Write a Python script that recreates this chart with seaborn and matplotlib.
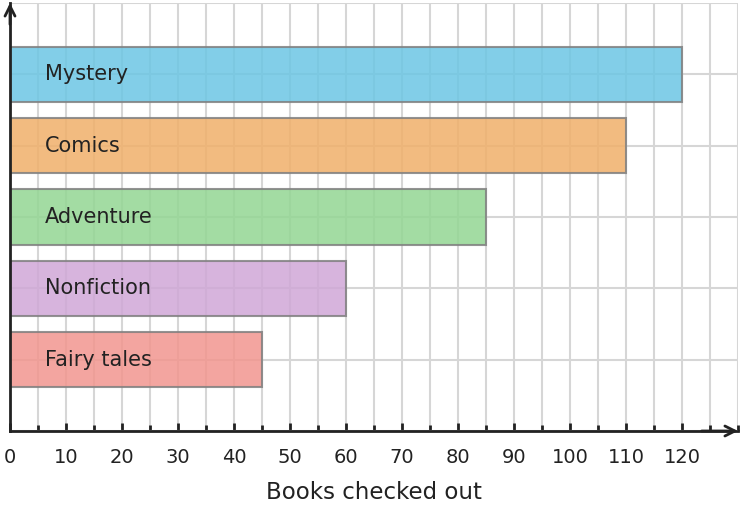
import matplotlib
matplotlib.use("Agg")

import matplotlib.pyplot as plt
import seaborn as sns
import pandas as pd
from matplotlib.ticker import MultipleLocator

# ── Data ────────────────────────────────────────────────────────────────────
genres = ["Mystery", "Comics", "Adventure", "Nonfiction", "Fairy tales"]
books  = [120, 110, 85, 60, 45]
colors = ["#6CC6E4", "#F0B06A", "#93D693", "#D0A7D7", "#F2968F"]

TEXT = "#222222"
GRID = "#D6D6D6"
EDGE = "#808080"

sns.set_theme(style="white")
plt.rcParams["font.family"] = ["DejaVu Sans"]

df = pd.DataFrame({"genre": genres, "books": books})

fig = plt.figure(figsize=(7.42, 5.08), dpi=100)
ax = fig.add_axes([10 / 742, 1 - 431 / 508, 728 / 742, 428 / 508])

sns.barplot(data=df, x="books", y="genre", hue="genre", palette=colors,
            saturation=1, orient="h", width=0.78, legend=False, ax=ax, zorder=2)
for bar in ax.patches:
    bar.set_alpha(0.85)
    bar.set_edgecolor(EDGE)
    bar.set_linewidth(1.5)

for i, g in enumerate(genres):
    ax.text(6.3, i, g, va="center", ha="left", fontsize=15, color=TEXT, zorder=3)

ax.set_xlim(0, 130)
ax.set_ylim(5, -1)
ax.xaxis.set_major_locator(MultipleLocator(10))
ax.xaxis.set_minor_locator(MultipleLocator(5))
ax.set_yticks(range(-1, 6))
ax.set_yticklabels([])
ax.grid(which="both", axis="x", color=GRID, linewidth=1.5, zorder=0)
ax.grid(which="major", axis="y", color=GRID, linewidth=1.5, zorder=0)
ax.set_axisbelow(True)

ticks = [t for t in range(0, 130, 10)]
ax.set_xticks(ticks)
ax.set_xticklabels([str(t) for t in ticks], fontsize=14, color=TEXT)
ax.tick_params(axis="x", which="major", direction="in", length=6, width=2,
               color=TEXT, pad=12, bottom=True)
ax.tick_params(axis="x", which="minor", direction="in", length=4, width=2,
               color=TEXT, bottom=True)
ax.tick_params(axis="y", length=0)

for s in ["top", "right"]:
    ax.spines[s].set_visible(False)
for s in ["left", "bottom"]:
    ax.spines[s].set_color(TEXT)
    ax.spines[s].set_linewidth(2)
    ax.spines[s].set_zorder(4)

# arrow heads on both axes
ax.annotate("", xy=(1.0, 0), xytext=(0.95, 0), xycoords="axes fraction",
            arrowprops=dict(arrowstyle="->", color=TEXT, lw=2,
                            mutation_scale=18, shrinkA=0, shrinkB=0),
            annotation_clip=False)
ax.annotate("", xy=(0, 1.0), xytext=(0, 0.95), xycoords="axes fraction",
            arrowprops=dict(arrowstyle="->", color=TEXT, lw=2,
                            mutation_scale=18, shrinkA=0, shrinkB=0),
            annotation_clip=False)

ax.set_ylabel("")
ax.set_xlabel("Books checked out", fontsize=16.5, color=TEXT, labelpad=10)

fig.savefig("out.png", dpi=100)
